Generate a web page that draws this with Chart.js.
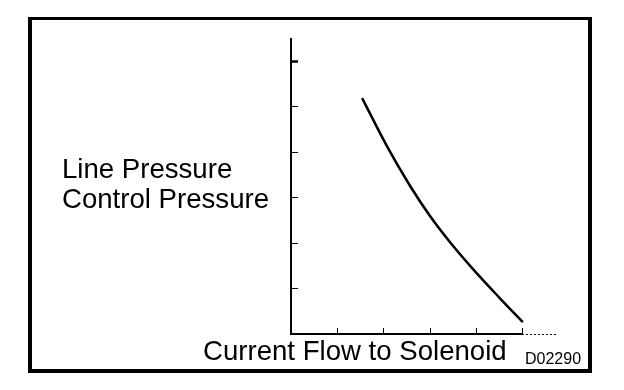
<!DOCTYPE html>
<html>
<head>
<meta charset="utf-8">
<script src="https://cdn.jsdelivr.net/npm/chart.js@4/dist/chart.umd.min.js"></script>
<style>
  html, body { margin: 0; padding: 0; background: #fff; }
  #wrap { position: relative; width: 624px; height: 390px; overflow: hidden; }
  #frame { position: absolute; left: 28px; top: 17px; width: 564px; height: 356px; box-sizing: border-box;
           border-style: solid; border-color: #000; border-width: 3px 4px 4px 4px; }
  canvas { position: absolute; left: 0; top: 0; }
  .lbl { position: absolute; font-family: "Liberation Sans", Arial, sans-serif; color: #000; white-space: nowrap; }
  #ylab { left: 62px; top: 154px; font-size: 27.6px; line-height: 30px; }
  #xlab { left: 203px; top: 336px; font-size: 27.6px; line-height: 30px; }
  #code { left: 525px; top: 351px; font-size: 16px; line-height: 16px; }
</style>
</head>
<body>
<div id="wrap">
  <canvas id="c" width="624" height="390"></canvas>
  <div id="frame"></div>
  <div class="lbl" id="ylab">Line Pressure<br>Control Pressure</div>
  <div class="lbl" id="xlab">Current Flow to Solenoid</div>
  <div class="lbl" id="code">D02290</div>
</div>
<script>
// Current (x, tick units) and pressure (y, tick units)
const currentValues  = [1.54, 2.08, 2.58, 3.01, 3.44, 3.98, 4.52, 5.02];
const pressureValues = [5.18, 4.12, 3.25, 2.59, 2.02, 1.38, 0.79, 0.26];
const xTicks = [1, 2, 3, 4, 5];
const yTicks = [1, 2, 3, 4, 5, 6];
const xMax = 5.76;
const yMax = 6.5;

const points = currentValues.map((x, i) => ({ x: x, y: pressureValues[i] }));

const axesPlugin = {
  id: 'axesPlugin',
  afterDatasetsDraw(chart) {
    const ctx = chart.ctx;
    const xs = chart.scales.x, ys = chart.scales.y;
    const x0 = xs.getPixelForValue(0), y0 = ys.getPixelForValue(0);
    const yTop = ys.getPixelForValue(yMax);
    const xEnd = xs.getPixelForValue(5);
    const xFar = xs.getPixelForValue(xMax);
    ctx.save();
    ctx.strokeStyle = '#000';
    ctx.lineWidth = 2;
    // y axis
    ctx.beginPath(); ctx.moveTo(x0, yTop); ctx.lineTo(x0, y0 + 1); ctx.stroke();
    // x axis (solid part)
    ctx.beginPath(); ctx.moveTo(x0 - 1, y0); ctx.lineTo(xEnd, y0); ctx.stroke();
    // x axis dotted extension
    ctx.lineWidth = 1;
    ctx.setLineDash([2, 2]);
    ctx.beginPath(); ctx.moveTo(xEnd, y0 + 0.5); ctx.lineTo(xFar, y0 + 0.5); ctx.stroke();
    ctx.setLineDash([]);
    // y ticks (inward)
    yTicks.forEach(v => {
      const p = Math.round(ys.getPixelForValue(v)) + 0.5;
      ctx.lineWidth = v === 6 ? 2.5 : 1;
      ctx.beginPath(); ctx.moveTo(x0 - 1, p); ctx.lineTo(x0 + 7, p); ctx.stroke();
    });
    // x ticks (upward)
    ctx.lineWidth = 1;
    xTicks.forEach(v => {
      const p = Math.round(xs.getPixelForValue(v)) + 0.5;
      ctx.beginPath(); ctx.moveTo(p, y0); ctx.lineTo(p, y0 - 6); ctx.stroke();
    });
    ctx.restore();
  }
};

new Chart(document.getElementById('c'), {
  type: 'scatter',
  data: {
    datasets: [{
      data: points,
      showLine: true,
      borderColor: '#000',
      borderWidth: 2.5,
      pointRadius: 0,
      tension: 0.4,
      cubicInterpolationMode: 'monotone',
      fill: false
    }]
  },
  options: {
    responsive: false,
    animation: false,
    devicePixelRatio: 1,
    layout: { padding: { left: 291, right: 67, top: 38, bottom: 56 } },
    plugins: { legend: { display: false }, tooltip: { enabled: false } },
    scales: {
      x: { type: 'linear', min: 0, max: xMax, display: false },
      y: { type: 'linear', min: 0, max: yMax, display: false }
    }
  },
  plugins: [axesPlugin]
});
</script>
</body>
</html>
